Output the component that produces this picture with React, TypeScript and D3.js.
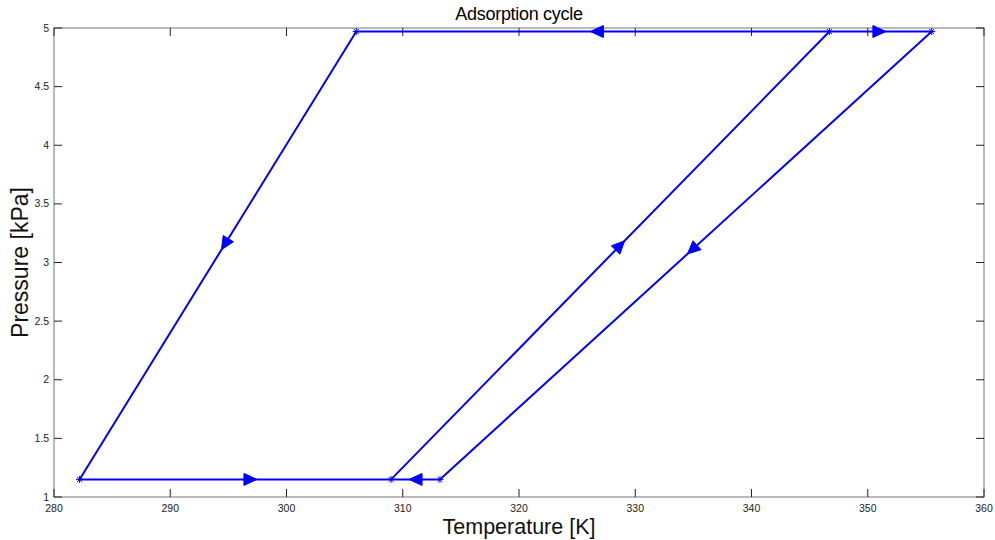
import React from "react";
import * as d3 from "d3";

// cycle corner points (temperature K, pressure kPa)
const nodeT = [306.0, 282.2, 309.0, 346.7, 355.5, 313.2];
const nodeP = [4.97, 1.15, 1.15, 4.97, 4.97, 1.15];

// drawing order of the polyline through the nodes
const pathOrder = [3, 0, 1, 2, 3, 4, 5, 2];

// direction arrows: segment from -> to, placed at temperature
const arrowFrom = [0, 1, 2, 3, 4, 5, 3];
const arrowTo = [1, 2, 3, 4, 5, 2, 0];
const arrowT = [294.7, 296.9, 328.7, 351.0, 334.9, 311.1, 326.7];

const xTicks = [280, 290, 300, 310, 320, 330, 340, 350, 360];
const yTicks = [1, 1.5, 2, 2.5, 3, 3.5, 4, 4.5, 5];

const W = 995;
const H = 540;
const margin = { left: 54, right: 11, top: 28, bottom: 43 };

export default function App() {
  const x = d3
    .scaleLinear()
    .domain([280, 360])
    .range([margin.left, W - margin.right]);
  const y = d3
    .scaleLinear()
    .domain([1, 5])
    .range([H - margin.bottom, margin.top]);

  const x0 = margin.left;
  const x1 = W - margin.right;
  const y0 = H - margin.bottom;
  const y1 = margin.top;

  const line = d3
    .line<number>()
    .x((i) => x(nodeT[i]))
    .y((i) => y(nodeP[i]));

  // asterisk marker (plus + cross)
  const star = (cx: number, cy: number) => {
    const s = 3.5;
    const d = s * 0.72;
    return `M${cx - s},${cy}L${cx + s},${cy}M${cx},${cy - s}L${cx},${cy + s}` +
      `M${cx - d},${cy - d}L${cx + d},${cy + d}M${cx - d},${cy + d}L${cx + d},${cy - d}`;
  };

  const arrows = arrowT.map((t, k) => {
    const a = arrowFrom[k];
    const b = arrowTo[k];
    const ax = x(nodeT[a]);
    const ay = y(nodeP[a]);
    const bx = x(nodeT[b]);
    const by = y(nodeP[b]);
    const f = (t - nodeT[a]) / (nodeT[b] - nodeT[a]);
    const px = ax + (bx - ax) * f;
    const py = ay + (by - ay) * f;
    const len = Math.hypot(bx - ax, by - ay);
    const ux = (bx - ax) / len;
    const uy = (by - ay) / len;
    const L = 6.5;
    const hw = 6;
    const tip = [px + ux * L, py + uy * L];
    const bc = [px - ux * L, py - uy * L];
    const p1 = [bc[0] - uy * hw, bc[1] + ux * hw];
    const p2 = [bc[0] + uy * hw, bc[1] - ux * hw];
    return `M${tip[0]},${tip[1]}L${p1[0]},${p1[1]}L${p2[0]},${p2[1]}Z`;
  });

  const tickLen = 8;
  const font = "'Liberation Sans', Arial, sans-serif";

  return (
    <svg
      width={W}
      height={H}
      style={{ position: "absolute", left: 0, top: 0, background: "#fff" }}
      fontFamily={font}
    >
      {/* axes box */}
      <rect
        x={x0}
        y={y1}
        width={x1 - x0}
        height={y0 - y1}
        fill="none"
        stroke="#777"
        strokeWidth={1}
      />
      {xTicks.map((t) => (
        <g key={"x" + t}>
          <line x1={x(t)} x2={x(t)} y1={y0} y2={y0 - tickLen} stroke="#222" />
          <line x1={x(t)} x2={x(t)} y1={y1} y2={y1 + tickLen} stroke="#222" />
          <text
            x={x(t)}
            y={y0 + 15}
            textAnchor="middle"
            fontSize={10.5}
            fill="#222"
          >
            {t}
          </text>
        </g>
      ))}
      {yTicks.map((t) => (
        <g key={"y" + t}>
          <line x1={x0} x2={x0 + tickLen} y1={y(t)} y2={y(t)} stroke="#222" />
          <line x1={x1} x2={x1 - tickLen} y1={y(t)} y2={y(t)} stroke="#222" />
          <text
            x={x0 - 5}
            y={y(t) + 3.5}
            textAnchor="end"
            fontSize={10.5}
            fill="#222"
          >
            {t}
          </text>
        </g>
      ))}

      {/* cycle */}
      <path
        d={line(pathOrder) ?? ""}
        fill="none"
        stroke="#0000ff"
        strokeWidth={2}
        strokeLinejoin="round"
      />
      {nodeT.map((t, i) => (
        <path
          key={"m" + i}
          d={star(x(t), y(nodeP[i]))}
          stroke="#0000ff"
          strokeWidth={1}
          fill="none"
        />
      ))}
      {arrows.map((d, i) => (
        <path key={"a" + i} d={d} fill="#0000ff" stroke="#0000ff" strokeWidth={1} />
      ))}

      {/* labels */}
      <text
        x={(x0 + x1) / 2}
        y={20}
        textAnchor="middle"
        fontSize={18}
        fill="#000"
        letterSpacing={-0.3}
      >
        Adsorption cycle
      </text>
      <text
        x={(x0 + x1) / 2}
        y={534}
        textAnchor="middle"
        fontSize={21.5}
        fill="#111"
      >
        Temperature [K]
      </text>
      <text
        transform={`translate(28,${(y0 + y1) / 2}) rotate(-90)`}
        textAnchor="middle"
        fontSize={23}
        fill="#111"
      >
        Pressure [kPa]
      </text>
    </svg>
  );
}
